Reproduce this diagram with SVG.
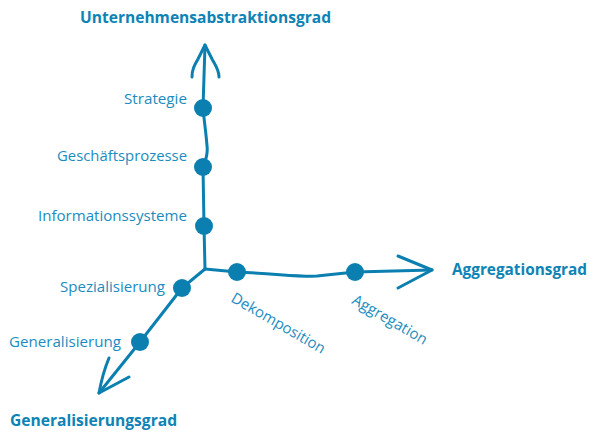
<svg xmlns="http://www.w3.org/2000/svg" width="600" height="442" viewBox="0 0 600 442">
<style>
.ax{fill:none;stroke:#0b80b0;stroke-width:3;stroke-linecap:round;stroke-linejoin:round}
.dot{fill:#0b80b0}
.lbl{font-family:"Open Sans","Liberation Sans",sans-serif;font-size:15px;fill:#1b8cbf}
.ttl{font-family:"Open Sans","Liberation Sans",sans-serif;font-size:16px;font-weight:bold;fill:#0e83b5}
</style>
<rect width="600" height="442" fill="#ffffff"/>
<g id="connectors">
<path class="ax" d="M205,269 L204,226 L203,167 C206,160 208,153 207,146 C206,132 204,120 203,108 L205,45"/>
<path class="ax" d="M192,77 C192,70 194,66 198,59 L205,45 L212,59 C216,66 219,70 219,77"/>
<path class="ax" d="M205,269 L237,272 C280,274 300,277 317,276 L355,272 L432,270"/>
<path class="ax" d="M398,256 L432,270 L398,288"/>
<path class="ax" d="M205,269 L182,288 L140,342 L99,393"/>
<path class="ax" d="M109,358 C104,370 101,382 99,393 L129,377"/>
</g>
<g id="title-y"><text class="ttl" x="80" y="23" textLength="251" lengthAdjust="spacingAndGlyphs">Unternehmensabstraktionsgrad</text></g>
<g id="title-x"><text class="ttl" x="452" y="275" textLength="135" lengthAdjust="spacingAndGlyphs">Aggregationsgrad</text></g>
<g id="title-z"><text class="ttl" x="10" y="426" textLength="167" lengthAdjust="spacingAndGlyphs">Generalisierungsgrad</text></g>
<g id="strategie"><circle class="dot" cx="203" cy="108" r="9"/><text class="lbl" x="124" y="104" textLength="63" lengthAdjust="spacingAndGlyphs">Strategie</text></g>
<g id="geschaeftsprozesse"><circle class="dot" cx="203" cy="167" r="9"/><text class="lbl" x="57" y="161" textLength="130" lengthAdjust="spacingAndGlyphs">Geschäftsprozesse</text></g>
<g id="informationssysteme"><circle class="dot" cx="204" cy="226" r="9"/><text class="lbl" x="38" y="221" textLength="149" lengthAdjust="spacingAndGlyphs">Informationssysteme</text></g>
<g id="dekomposition"><circle class="dot" cx="237" cy="272" r="9"/><text class="lbl" transform="translate(230,301) rotate(30)" textLength="106" lengthAdjust="spacingAndGlyphs">Dekomposition</text></g>
<g id="aggregation"><circle class="dot" cx="355" cy="272" r="9"/><text class="lbl" transform="translate(351,303) rotate(30)" textLength="84" lengthAdjust="spacingAndGlyphs">Aggregation</text></g>
<g id="spezialisierung"><circle class="dot" cx="182" cy="288" r="9"/><text class="lbl" x="60" y="292" textLength="105" lengthAdjust="spacingAndGlyphs">Spezialisierung</text></g>
<g id="generalisierung"><circle class="dot" cx="140" cy="342" r="9"/><text class="lbl" x="9" y="347" textLength="112" lengthAdjust="spacingAndGlyphs">Generalisierung</text></g>
</svg>
